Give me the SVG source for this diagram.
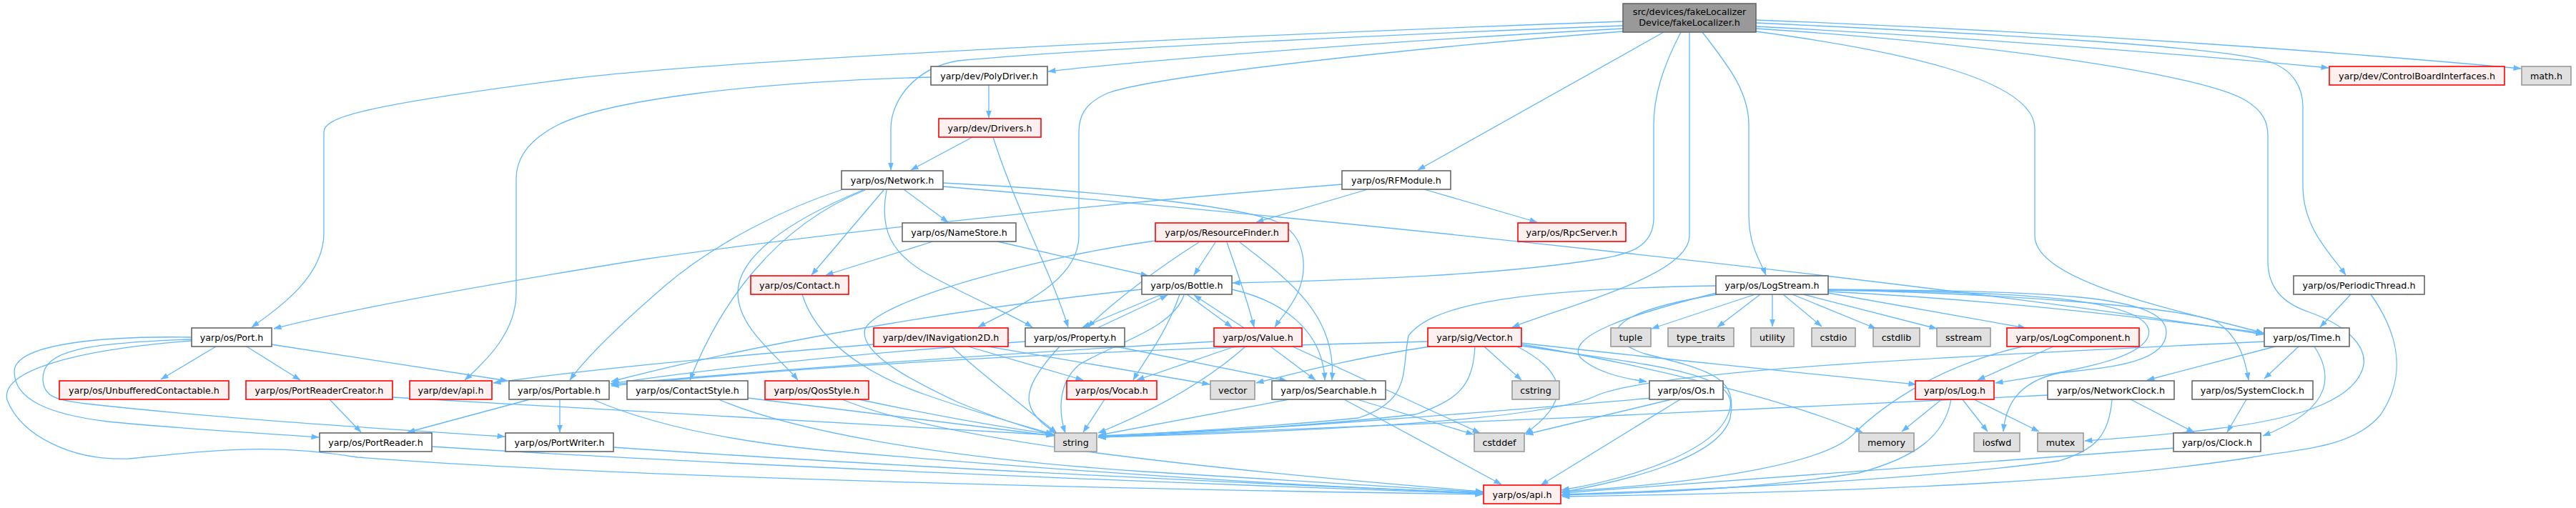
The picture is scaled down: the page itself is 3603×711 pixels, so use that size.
<svg xmlns="http://www.w3.org/2000/svg" width="3603" height="711" viewBox="0 0 3603 711">
<style>
.n rect{fill:#ffffff;stroke:#666666;stroke-width:1.6}
.r rect{fill:#fff0f0;stroke:#ff0000;stroke-width:1.6}
.g rect{fill:#e0e0e0;stroke:#999999;stroke-width:1.6}
.m rect{fill:#999999;stroke:#666666;stroke-width:1.6}
text{font-family:"DejaVu Sans","Liberation Sans",sans-serif;font-size:12.7px;fill:#000;text-anchor:middle}
#edges path{fill:none;stroke:#63b8ff;stroke-width:1.3;marker-end:url(#a)}
</style>
<defs>
<marker id="a" markerWidth="11" markerHeight="8" refX="10.5" refY="4" orient="auto" markerUnits="userSpaceOnUse">
<path d="M0,0 L11,4 L0,8 z" fill="#63b8ff" stroke="none"/>
</marker>
</defs>
<rect width="3603" height="711" fill="#ffffff"/>
<g id="edges">
<path d="M2270,30 C1700,50 1000,85 800,110 C500,148 453,165 453,185 L453,326 C453,385 395,428 352,458"/>
<path d="M2270,36 C1900,50 1500,70 1340,85 C1280,95 1246,140 1246,180 L1246,238"/>
<path d="M2270,40 C1900,60 1600,85 1466,100"/>
<path d="M2270,44 C2000,65 1620,105 1550,130 C1515,145 1509,165 1509,185 L1509,330 C1509,395 1420,430 1368,458"/>
<path d="M2351,45 C2325,95 2313,135 2313,175 L2313,305 C2313,345 2280,355 2240,362 C2100,385 1900,392 1724,396"/>
<path d="M2327,45 L1983,238"/>
<path d="M2363,45 L2363,330 C2363,385 2200,425 2115,458"/>
<path d="M2381,45 C2420,95 2446,130 2446,175 L2446,300 C2446,345 2462,365 2470,385"/>
<path d="M2456,44 C2650,70 2846,110 2846,180 L2846,330 C2846,395 3050,435 3166,466"/>
<path d="M2456,40 C2800,62 3080,105 3140,140 C3165,155 3172,170 3172,190 L3172,365 C3172,405 3195,425 3230,437 C3290,458 3312,490 3305,515 C3290,565 3200,588 3100,600 C3020,610 2960,614 2916,617"/>
<path d="M2456,32 C2800,48 3100,65 3170,85 C3210,97 3221,125 3221,150 L3221,260 C3221,320 3260,355 3281,385"/>
<path d="M2456,37 C2800,55 3100,80 3257,95"/>
<path d="M2456,28 C2900,45 3300,75 3526,96"/>
<path d="M1383,119 L1383,165"/>
<path d="M1302,108 C1050,115 850,140 780,175 C735,198 722,225 722,250 L722,410 C722,465 680,505 650,532"/>
<path d="M1360,192 L1274,238"/>
<path d="M1389,192 C1420,290 1470,380 1494,458"/>
<path d="M1264,265 L1326,311"/>
<path d="M1236,266 L1135,385"/>
<path d="M1240,266 C1230,320 1245,355 1300,385 C1360,418 1415,440 1444,458"/>
<path d="M1319,256 C1500,265 1720,285 1785,310 C1830,330 1828,380 1815,410 C1805,432 1790,447 1783,458"/>
<path d="M1319,261 C1900,310 2700,395 3166,468"/>
<path d="M1182,264 C1100,290 1000,340 930,400 C870,452 820,500 797,532"/>
<path d="M1210,266 C1080,318 1005,430 965,532"/>
<path d="M1207,266 C1100,310 1032,360 1032,410 C1032,460 1090,500 1116,532"/>
<path d="M1992,265 L2150,311"/>
<path d="M1913,265 L1757,311"/>
<path d="M1877,258 C1600,280 1200,320 900,363 C700,395 500,430 383,460"/>
<path d="M1305,338 L1155,385"/>
<path d="M1395,338 L1606,386"/>
<path d="M1616,337 C1450,360 1230,420 1210,460 C1200,495 1280,535 1340,563 C1400,588 1440,600 1475,609"/>
<path d="M1677,339 C1620,375 1560,420 1521,458"/>
<path d="M1700,339 L1670,385"/>
<path d="M1716,339 C1730,380 1745,420 1754,458"/>
<path d="M1734,339 C1800,390 1870,440 1863,532"/>
<path d="M1625,412 L1514,458"/>
<path d="M1535,459 L1633,413"/>
<path d="M1660,412 L1723,458"/>
<path d="M1740,459 L1670,413"/>
<path d="M1597,405 C1400,425 1100,470 855,534"/>
<path d="M1650,412 C1630,470 1600,505 1585,532"/>
<path d="M1656,413 C1640,460 1560,480 1510,510 C1480,535 1480,575 1490,606"/>
<path d="M1723,405 C1790,420 1850,460 1853,532"/>
<path d="M1434,478 C1200,495 1000,515 854,537"/>
<path d="M1482,485 C1450,520 1435,545 1440,565 C1445,585 1465,598 1478,607"/>
<path d="M1561,485 L1800,533"/>
<path d="M1698,478 C1400,495 1050,520 855,538"/>
<path d="M1727,485 L1590,532"/>
<path d="M1742,485 C1680,540 1600,580 1536,606"/>
<path d="M1777,485 L1840,532"/>
<path d="M1808,485 L2070,606"/>
<path d="M1222,482 C1000,500 800,520 690,536"/>
<path d="M1331,485 C1380,530 1440,575 1478,606"/>
<path d="M1354,485 L1515,532"/>
<path d="M1382,485 C1500,505 1620,525 1692,538"/>
<path d="M1997,478 C1500,490 1100,515 855,540"/>
<path d="M2000,485 C1900,500 1820,520 1757,536"/>
<path d="M2063,485 C2060,540 2040,560 1980,580 C1800,600 1650,605 1536,610"/>
<path d="M2076,485 L2128,532"/>
<path d="M2122,485 C2190,520 2200,560 2133,607"/>
<path d="M2128,480 C2300,500 2500,520 2680,538"/>
<path d="M2128,482 C2300,510 2500,560 2605,605"/>
<path d="M2128,484 C2300,510 2430,520 2420,570 C2410,630 2280,670 2184,686"/>
<path d="M2400,400 C2100,405 2000,430 1970,470 C1960,520 1975,560 1900,585 C1750,600 1620,606 1536,611"/>
<path d="M2401,410 C2280,440 2190,470 2210,500 C2230,520 2270,530 2303,534"/>
<path d="M2402,412 C2250,437 2230,470 2300,495 C2400,520 2430,530 2420,585 C2405,640 2280,672 2184,689"/>
<path d="M2455,412 L2310,460"/>
<path d="M2462,412 L2402,458"/>
<path d="M2479,412 L2479,457"/>
<path d="M2494,412 L2548,457"/>
<path d="M2507,412 L2624,460"/>
<path d="M2522,412 L2709,460"/>
<path d="M2557,410 L2833,459"/>
<path d="M2557,408 C2800,420 3000,445 3166,466"/>
<path d="M2557,406 C2800,408 2990,415 3005,460 C3015,500 2900,520 2791,536"/>
<path d="M2557,406 C2800,410 3050,430 3100,450 C3130,470 3140,500 3145,532"/>
<path d="M2557,405 C2850,408 3030,410 3030,465 C3030,510 2940,515 2880,522 C2820,535 2805,570 2802,604"/>
<path d="M2312,557 C2100,575 1800,600 1536,612"/>
<path d="M2342,558 L2134,608"/>
<path d="M2350,559 L2155,679"/>
<path d="M2717,558 L2660,604"/>
<path d="M2744,558 L2780,604"/>
<path d="M2759,558 L2852,604"/>
<path d="M2729,559 C2720,610 2680,640 2600,662 C2450,685 2300,690 2184,693"/>
<path d="M2872,485 L2766,532"/>
<path d="M2829,485 C2720,510 2640,560 2590,610 C2540,655 2350,678 2185,688"/>
<path d="M2978,558 L3069,605"/>
<path d="M2954,559 C2950,610 2930,630 2880,645 C2700,670 2400,685 2185,692"/>
<path d="M2865,553 C2500,570 1900,600 1536,612"/>
<path d="M3142,559 L3115,605"/>
<path d="M3182,485 L3003,532"/>
<path d="M3215,485 L3167,530"/>
<path d="M3237,485 C3260,520 3270,570 3165,610"/>
<path d="M3168,478 C2700,500 2300,520 2230,555 C2150,590 1800,605 1536,612"/>
<path d="M3042,627 C2700,650 2400,675 2185,690"/>
<path d="M3288,412 L3245,458"/>
<path d="M3316,412 C3350,460 3370,520 3330,580 C3290,630 3200,630 3150,640 C2900,680 2500,690 2185,695"/>
<path d="M302,485 L225,531"/>
<path d="M345,485 L420,532"/>
<path d="M379,482 L710,533"/>
<path d="M268,472 C150,470 20,480 20,520 C20,560 70,580 150,590 C250,600 350,605 446,612"/>
<path d="M268,475 C120,480 60,490 60,530 C60,556 80,560 120,565 C300,585 500,598 706,611"/>
<path d="M268,477 C100,490 0,520 10,560 C30,610 100,645 180,642 C300,630 380,620 500,640 C900,670 1600,685 2074,692"/>
<path d="M461,559 L505,605"/>
<path d="M549,556 C900,575 1250,595 1474,609"/>
<path d="M741,559 L570,605"/>
<path d="M783,559 L783,605"/>
<path d="M829,559 C900,590 1000,615 1150,630 C1500,660 1800,680 2074,690"/>
<path d="M604,625 C1000,650 1600,675 2074,691"/>
<path d="M858,626 C1200,650 1700,675 2074,690"/>
<path d="M1046,557 C1200,575 1350,595 1474,610"/>
<path d="M1005,559 C1100,600 1300,640 1600,660 C1800,672 1950,682 2074,689"/>
<path d="M1201,559 C1300,580 1400,598 1474,608"/>
<path d="M1178,559 C1300,610 1600,650 2074,688"/>
<path d="M1122,412 C1140,470 1200,520 1296,553 C1380,582 1440,598 1473,608"/>
<path d="M1803,559 L1537,609"/>
<path d="M1898,559 L2061,608"/>
<path d="M1880,559 L2100,678"/>
<path d="M1545,559 L1515,605"/>
</g>
<g id="main" class="m"><rect x="2270" y="5" width="186" height="40"/><text x="2363" y="21">src/devices/fakeLocalizer</text><text x="2363" y="36">Device/fakeLocalizer.h</text></g>
<g id="polydriver" class="n"><rect x="1302" y="93" width="163" height="26"/><text x="1383.5" y="110.5">yarp/dev/PolyDriver.h</text></g>
<g id="cbi" class="r"><rect x="3258" y="93" width="245" height="26"/><text x="3380.5" y="110.5">yarp/dev/ControlBoardInterfaces.h</text></g>
<g id="math" class="g"><rect x="3527" y="93" width="69" height="26"/><text x="3561.5" y="110.5">math.h</text></g>
<g id="drivers" class="r"><rect x="1313" y="166" width="143" height="26"/><text x="1384.5" y="183.5">yarp/dev/Drivers.h</text></g>
<g id="network" class="n"><rect x="1177" y="239" width="142" height="26"/><text x="1248" y="256.5">yarp/os/Network.h</text></g>
<g id="rfmodule" class="n"><rect x="1877" y="239" width="152" height="26"/><text x="1953" y="256.5">yarp/os/RFModule.h</text></g>
<g id="namestore" class="n"><rect x="1262" y="312" width="159" height="26"/><text x="1341.5" y="329.5">yarp/os/NameStore.h</text></g>
<g id="resourcefinder" class="r"><rect x="1616" y="312" width="186" height="26"/><text x="1709" y="329.5">yarp/os/ResourceFinder.h</text></g>
<g id="rpcserver" class="r"><rect x="2123" y="312" width="151" height="26"/><text x="2198.5" y="329.5">yarp/os/RpcServer.h</text></g>
<g id="contact" class="r"><rect x="1050" y="386" width="137" height="26"/><text x="1118.5" y="403.5">yarp/os/Contact.h</text></g>
<g id="bottle" class="n"><rect x="1597" y="386" width="126" height="26"/><text x="1660" y="403.5">yarp/os/Bottle.h</text></g>
<g id="logstream" class="n"><rect x="2400" y="386" width="157" height="26"/><text x="2478.5" y="403.5">yarp/os/LogStream.h</text></g>
<g id="periodicthread" class="n"><rect x="3208" y="386" width="183" height="26"/><text x="3299.5" y="403.5">yarp/os/PeriodicThread.h</text></g>
<g id="port" class="n"><rect x="268" y="459" width="112" height="26"/><text x="324" y="476.5">yarp/os/Port.h</text></g>
<g id="inavigation2d" class="r"><rect x="1222" y="459" width="188" height="26"/><text x="1316" y="476.5">yarp/dev/INavigation2D.h</text></g>
<g id="property" class="n"><rect x="1434" y="459" width="139" height="26"/><text x="1503.5" y="476.5">yarp/os/Property.h</text></g>
<g id="value" class="r"><rect x="1698" y="459" width="123" height="26"/><text x="1759.5" y="476.5">yarp/os/Value.h</text></g>
<g id="sigvector" class="r"><rect x="1997" y="459" width="131" height="26"/><text x="2062.5" y="476.5">yarp/sig/Vector.h</text></g>
<g id="tuple" class="g"><rect x="2253" y="459" width="56" height="26"/><text x="2281" y="476.5">tuple</text></g>
<g id="type_traits" class="g"><rect x="2333" y="459" width="92" height="26"/><text x="2379" y="476.5">type_traits</text></g>
<g id="utility" class="g"><rect x="2449" y="459" width="60" height="26"/><text x="2479" y="476.5">utility</text></g>
<g id="cstdio" class="g"><rect x="2534" y="459" width="61" height="26"/><text x="2564.5" y="476.5">cstdio</text></g>
<g id="cstdlib" class="g"><rect x="2620" y="459" width="65" height="26"/><text x="2652.5" y="476.5">cstdlib</text></g>
<g id="sstream" class="g"><rect x="2709" y="459" width="75" height="26"/><text x="2746.5" y="476.5">sstream</text></g>
<g id="logcomponent" class="r"><rect x="2807" y="459" width="185" height="26"/><text x="2899.5" y="476.5">yarp/os/LogComponent.h</text></g>
<g id="time" class="n"><rect x="3167" y="459" width="119" height="26"/><text x="3226.5" y="476.5">yarp/os/Time.h</text></g>
<g id="unbufferedcontactable" class="r"><rect x="83" y="533" width="237" height="26"/><text x="201.5" y="550.5">yarp/os/UnbufferedContactable.h</text></g>
<g id="portreadercreator" class="r"><rect x="344" y="533" width="205" height="26"/><text x="446.5" y="550.5">yarp/os/PortReaderCreator.h</text></g>
<g id="devapi" class="r"><rect x="573" y="533" width="115" height="26"/><text x="630.5" y="550.5">yarp/dev/api.h</text></g>
<g id="portable" class="n"><rect x="712" y="533" width="140" height="26"/><text x="782" y="550.5">yarp/os/Portable.h</text></g>
<g id="contactstyle" class="n"><rect x="877" y="533" width="169" height="26"/><text x="961.5" y="550.5">yarp/os/ContactStyle.h</text></g>
<g id="qosstyle" class="r"><rect x="1070" y="533" width="145" height="26"/><text x="1142.5" y="550.5">yarp/os/QosStyle.h</text></g>
<g id="vocab" class="r"><rect x="1492" y="533" width="126" height="26"/><text x="1555" y="550.5">yarp/os/Vocab.h</text></g>
<g id="vector" class="g"><rect x="1693" y="533" width="62" height="26"/><text x="1724" y="550.5">vector</text></g>
<g id="searchable" class="n"><rect x="1779" y="533" width="159" height="26"/><text x="1858.5" y="550.5">yarp/os/Searchable.h</text></g>
<g id="cstring" class="g"><rect x="2115" y="533" width="66" height="26"/><text x="2148" y="550.5">cstring</text></g>
<g id="os" class="n"><rect x="2307" y="533" width="103" height="26"/><text x="2358.5" y="550.5">yarp/os/Os.h</text></g>
<g id="log" class="r"><rect x="2679" y="533" width="110" height="26"/><text x="2734" y="550.5">yarp/os/Log.h</text></g>
<g id="networkclock" class="n"><rect x="2864" y="533" width="177" height="26"/><text x="2952.5" y="550.5">yarp/os/NetworkClock.h</text></g>
<g id="systemclock" class="n"><rect x="3066" y="533" width="169" height="26"/><text x="3150.5" y="550.5">yarp/os/SystemClock.h</text></g>
<g id="portreader" class="n"><rect x="447" y="606" width="157" height="26"/><text x="525.5" y="623.5">yarp/os/PortReader.h</text></g>
<g id="portwriter" class="n"><rect x="707" y="606" width="151" height="26"/><text x="782.5" y="623.5">yarp/os/PortWriter.h</text></g>
<g id="string" class="g"><rect x="1475" y="606" width="59" height="26"/><text x="1504.5" y="623.5">string</text></g>
<g id="cstddef" class="g"><rect x="2062" y="606" width="70" height="26"/><text x="2097" y="623.5">cstddef</text></g>
<g id="memory" class="g"><rect x="2600" y="606" width="77" height="26"/><text x="2638.5" y="623.5">memory</text></g>
<g id="iosfwd" class="g"><rect x="2761" y="606" width="64" height="26"/><text x="2793" y="623.5">iosfwd</text></g>
<g id="mutex" class="g"><rect x="2850" y="606" width="64" height="26"/><text x="2882" y="623.5">mutex</text></g>
<g id="clock" class="n"><rect x="3040" y="606" width="122" height="26"/><text x="3101" y="623.5">yarp/os/Clock.h</text></g>
<g id="osapi" class="r"><rect x="2075" y="679" width="108" height="26"/><text x="2129" y="696.5">yarp/os/api.h</text></g>
</svg>
